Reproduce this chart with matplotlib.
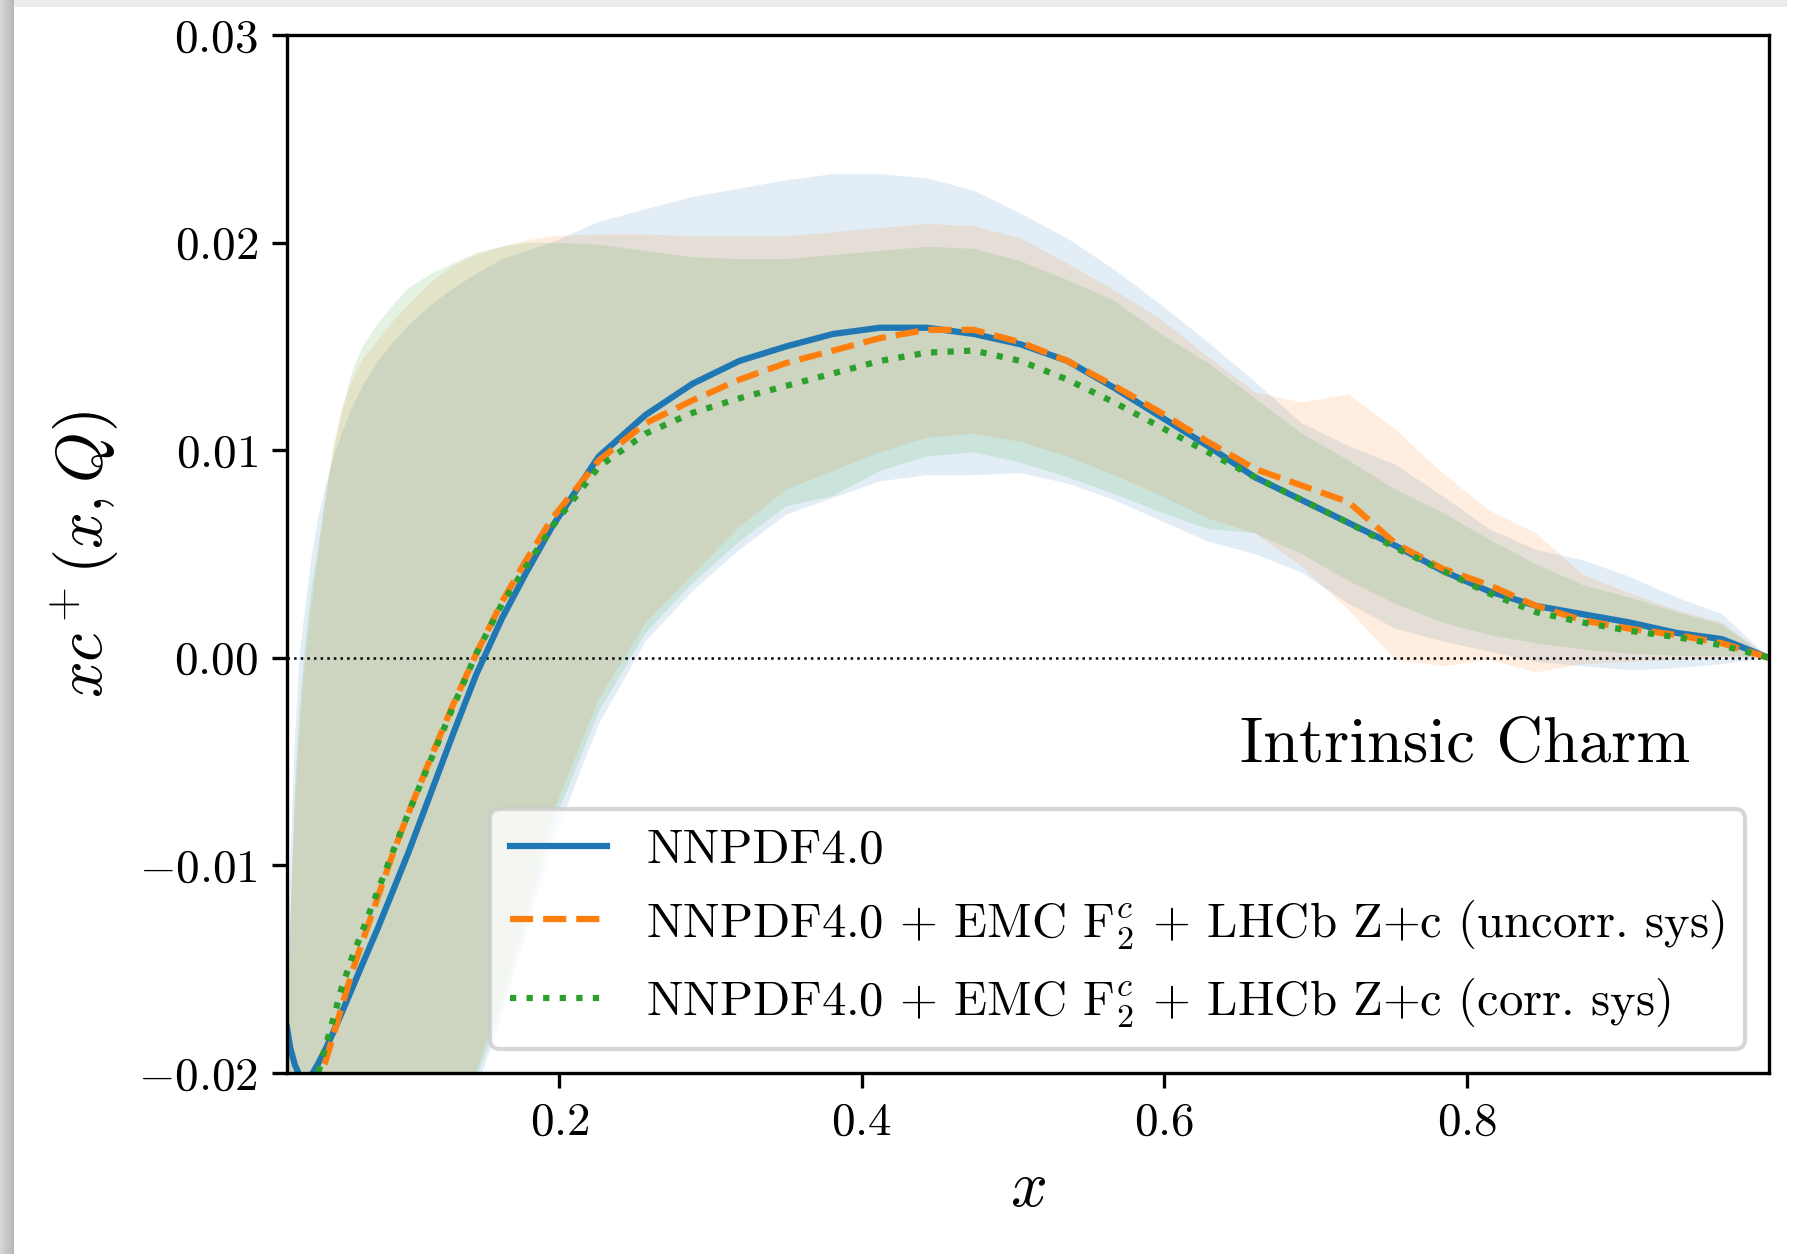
"""
Intrinsic charm: xc+(x,Q) for NNPDF4.0 and the two EMC F2c + LHCb Z+c variants.
Values read off the reference figure.
"""
import numpy as np
import matplotlib
matplotlib.use("Agg")
import matplotlib.pyplot as plt
from matplotlib.patches import Rectangle
from matplotlib.ticker import FuncFormatter

plt.rcParams["font.family"] = "serif"
plt.rcParams["font.serif"] = ["cmr10"]
plt.rcParams["mathtext.fontset"] = "cm"
plt.rcParams["axes.formatter.use_mathtext"] = True

# ── x grid ──
x = [0.0198, 0.022, 0.025, 0.028, 0.032, 0.036, 0.040, 0.045, 0.050, 0.056,
     0.063, 0.070, 0.080, 0.090, 0.100, 0.115, 0.130, 0.145, 0.162, 0.178,
     0.195, 0.226, 0.257, 0.288, 0.319, 0.350, 0.381, 0.412, 0.443, 0.474,
     0.505, 0.536, 0.567, 0.598, 0.629, 0.660, 0.691, 0.722, 0.753, 0.784,
     0.815, 0.846, 0.877, 0.908, 0.939, 0.969, 1.0]

# ── NNPDF4.0 ──
nnpdf_cv = [-0.0178, -0.0188, -0.0196, -0.0201, -0.0203, -0.0201, -0.0196, -0.0189, -0.0181, -0.0171,
            -0.0159, -0.0147, -0.0130, -0.0112, -0.0094, -0.0065, -0.0036, -0.0008, 0.0019, 0.0041,
            0.0063, 0.0097, 0.0117, 0.0132, 0.0143, 0.0150, 0.0156, 0.0159, 0.0159, 0.0156,
            0.0151, 0.0143, 0.0130, 0.0116, 0.0102, 0.0087, 0.0076, 0.0065, 0.0054, 0.0042,
            0.0032, 0.0025, 0.0021, 0.0017, 0.0012, 0.0009, 0.0]
nnpdf_hi = [-0.0170, -0.0100, -0.0040, 0.0000, 0.0025, 0.0048, 0.0066, 0.0082, 0.0095, 0.0108,
            0.0121, 0.0131, 0.0143, 0.0152, 0.0160, 0.0170, 0.0178, 0.0185, 0.0192, 0.0196,
            0.0200, 0.0210, 0.0216, 0.0222, 0.0226, 0.0230, 0.0233, 0.0233, 0.0231, 0.0225,
            0.0214, 0.0202, 0.0187, 0.0170, 0.0152, 0.0133, 0.0113, 0.0102, 0.0093, 0.0078,
            0.0062, 0.0052, 0.0047, 0.0039, 0.0029, 0.0021, 0.0]
nnpdf_lo = [-0.070, -0.068, -0.066, -0.064, -0.062, -0.060, -0.058, -0.056, -0.054, -0.052,
            -0.049, -0.046, -0.043, -0.039, -0.036, -0.031, -0.0255, -0.0208, -0.0172, -0.0133,
            -0.0090, -0.0032, 0.0008, 0.0032, 0.0052, 0.0069, 0.0077, 0.0085, 0.0088, 0.0088,
            0.0089, 0.0084, 0.0076, 0.0066, 0.0056, 0.0050, 0.0041, 0.0026, 0.0014, 0.0008,
            0.0003, -0.0002, -0.0004, -0.0006, -0.0005, -0.0003, 0.0]

# ── + EMC F2c + LHCb Z+c (uncorr. sys) ──
uncorr_cv = [-0.0240, -0.0236, -0.0231, -0.0226, -0.0219, -0.0211, -0.0202, -0.0195, -0.0183, -0.0168,
             -0.0151, -0.0136, -0.0115, -0.0094, -0.0075, -0.0048, -0.0022, 0.0002, 0.0027, 0.0047,
             0.0067, 0.0095, 0.0113, 0.0124, 0.0134, 0.0142, 0.0148, 0.0154, 0.0158, 0.0158,
             0.0152, 0.0143, 0.0131, 0.0118, 0.0104, 0.0091, 0.0083, 0.0075, 0.0055, 0.0043,
             0.0035, 0.0025, 0.0018, 0.0014, 0.0011, 0.0007, 0.0]
uncorr_hi = [-0.0190, -0.0130, -0.0075, -0.0035, 0.0000, 0.0025, 0.0047, 0.0074, 0.0100, 0.0120,
             0.0134, 0.0144, 0.0153, 0.0162, 0.0170, 0.0181, 0.0189, 0.0194, 0.0198, 0.0201,
             0.0203, 0.0204, 0.0204, 0.0203, 0.0203, 0.0203, 0.0205, 0.0207, 0.0209, 0.0208,
             0.0202, 0.0190, 0.0177, 0.0163, 0.0145, 0.0128, 0.0123, 0.0127, 0.0110, 0.0089,
             0.0071, 0.0060, 0.0040, 0.0031, 0.0023, 0.0017, 0.0]
uncorr_lo = [-0.068, -0.066, -0.064, -0.062, -0.060, -0.058, -0.056, -0.054, -0.052, -0.050,
             -0.047, -0.044, -0.041, -0.037, -0.034, -0.029, -0.0235, -0.0199, -0.0163, -0.0124,
             -0.0076, -0.0020, 0.0017, 0.0040, 0.0063, 0.0081, 0.0090, 0.0099, 0.0106, 0.0108,
             0.0104, 0.0097, 0.0088, 0.0078, 0.0067, 0.0060, 0.0044, 0.0023, -0.0001, -0.0004,
             -0.0001, -0.0007, -0.0003, -0.0002, -0.0001, 0.0000, 0.0]

# ── + EMC F2c + LHCb Z+c (corr. sys) ──
corr_cv = [-0.0245, -0.0240, -0.0234, -0.0227, -0.0219, -0.0210, -0.0201, -0.0188, -0.0175, -0.0159,
           -0.0144, -0.0131, -0.0112, -0.0093, -0.0075, -0.0049, -0.0023, 0.0002, 0.0026, 0.0044,
           0.0063, 0.0092, 0.0108, 0.0118, 0.0125, 0.0131, 0.0137, 0.0143, 0.0147, 0.0148,
           0.0143, 0.0134, 0.0123, 0.0111, 0.0099, 0.0087, 0.0076, 0.0065, 0.0053, 0.0042,
           0.0031, 0.0022, 0.0017, 0.0013, 0.0010, 0.0006, 0.0]
corr_hi = [-0.0190, -0.0125, -0.0065, -0.0025, 0.0008, 0.0033, 0.0052, 0.0076, 0.0098, 0.0118,
           0.0138, 0.0150, 0.0161, 0.0170, 0.0178, 0.0185, 0.0190, 0.0195, 0.0198, 0.0200,
           0.0200, 0.0199, 0.0196, 0.0193, 0.0192, 0.0192, 0.0194, 0.0196, 0.0198, 0.0197,
           0.0191, 0.0182, 0.0172, 0.0156, 0.0142, 0.0125, 0.0108, 0.0095, 0.0081, 0.0070,
           0.0057, 0.0045, 0.0035, 0.0029, 0.0022, 0.0016, 0.0]
corr_lo = [-0.069, -0.067, -0.065, -0.063, -0.061, -0.059, -0.057, -0.055, -0.053, -0.051,
           -0.048, -0.045, -0.042, -0.038, -0.035, -0.030, -0.0240, -0.0203, -0.0168, -0.0128,
           -0.0082, -0.0026, 0.0012, 0.0036, 0.0056, 0.0073, 0.0078, 0.0090, 0.0097, 0.0099,
           0.0094, 0.0087, 0.0079, 0.0070, 0.0062, 0.0060, 0.0050, 0.0037, 0.0026, 0.0017,
           0.0011, 0.0007, 0.0004, 0.0002, 0.0001, 0.0001, 0.0]

labels = [
    "NNPDF4.0",
    r"NNPDF4.0 + EMC F$_2^c$ + LHCb Z+c (uncorr. sys)",
    r"NNPDF4.0 + EMC F$_2^c$ + LHCb Z+c (corr. sys)",
]

fig = plt.figure(figsize=(1797 / 300, 1254 / 300), dpi=300)
fig.subplots_adjust(left=0.1597, right=0.9844, bottom=0.1443, top=0.9721)
ax = fig.add_subplot(111)

# screenshot frame: grey strip on the left and top
for i, g in enumerate(np.linspace(0.84, 0.72, 14)):
    fig.add_artist(Rectangle((i / 1797, 0), 1 / 1797 + 1e-4, 1, transform=fig.transFigure,
                             color=str(g), lw=0, zorder=-10))
fig.add_artist(Rectangle((14 / 1797, 1 - 7 / 1254), 1773 / 1797, 7 / 1254, transform=fig.transFigure,
                         color="#ebebeb", lw=0, zorder=-10))

series = [
    (nnpdf_cv, nnpdf_lo, nnpdf_hi, "C0", "-"),
    (uncorr_cv, uncorr_lo, uncorr_hi, "C1", "--"),
    (corr_cv, corr_lo, corr_hi, "C2", ":"),
]
for cv, lo, hi, col, ls in series:
    ax.fill_between(x, lo, hi, color=col, alpha=0.13, lw=0)
ax.axhline(0, color="k", ls=":", lw=0.6, zorder=1.5)
for (cv, lo, hi, col, ls), lab in zip(series, labels):
    ax.plot(x, cv, color=col, ls=ls, lw=1.5, label=lab)

ax.set_xlim(0.0198, 1.0)
ax.set_ylim(-0.02, 0.03)
ax.set_xticks([0.2, 0.4, 0.6, 0.8])
ax.set_yticks([-0.02, -0.01, 0.0, 0.01, 0.02, 0.03])
ax.xaxis.set_major_formatter(FuncFormatter(lambda v, p: f"${v:.1f}$"))
ax.yaxis.set_major_formatter(FuncFormatter(lambda v, p: f"${v:.2f}$"))
ax.tick_params(labelsize=11.3)

ax.set_xlabel(r"$x$", fontsize=15.5)
ax.set_ylabel(r"$xc^+(x,Q)$", fontsize=15.5)
ax.text(0.947, 0.30, "Intrinsic Charm", transform=ax.transAxes,
        ha="right", va="baseline", fontsize=15.5)
ax.legend(loc="lower right", fontsize=11.7)

fig.savefig("out.png", dpi=300)
